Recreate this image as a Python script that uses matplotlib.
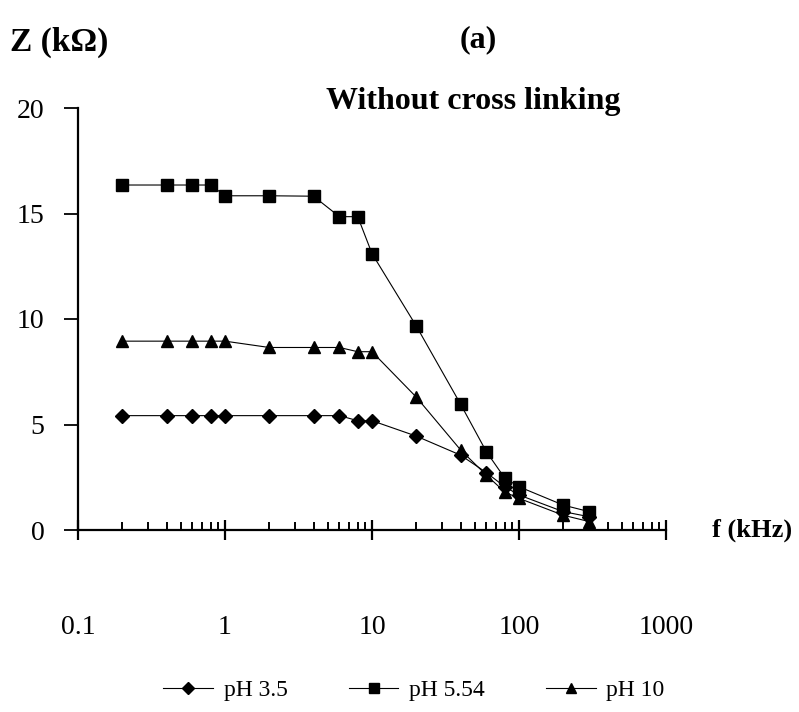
import matplotlib
matplotlib.use("Agg")
import matplotlib.pyplot as plt
from matplotlib.ticker import FixedLocator, FixedFormatter, LogLocator, NullFormatter

plt.rcParams['font.family'] = ['Liberation Serif', 'DejaVu Serif']

freq = [0.2, 0.4, 0.6, 0.8, 1, 2, 4, 6, 8, 10, 20, 40, 60, 80, 100, 200, 300]
ph35 = [5.42, 5.42, 5.42, 5.42, 5.42, 5.42, 5.42, 5.42, 5.18, 5.18, 4.45, 3.55, 2.72, 2.05, 1.66, 0.87, 0.63]
ph554 = [16.35, 16.35, 16.35, 16.35, 15.84, 15.84, 15.82, 14.85, 14.85, 13.1, 9.67, 5.97, 3.71, 2.46, 2.05, 1.18, 0.87]
ph10 = [8.95, 8.95, 8.95, 8.95, 8.95, 8.65, 8.65, 8.65, 8.45, 8.45, 6.3, 3.8, 2.6, 1.8, 1.5, 0.7, 0.4]

xticks = [0.1, 1, 10, 100, 1000]
xticklabels = ["0.1", "1", "10", "100", "1000"]
yticks = [0, 5, 10, 15, 20]
series_labels = ["pH 3.5", "pH 5.54", "pH 10"]

fig = plt.figure(figsize=(7.99, 7.12), dpi=100)
ax = fig.add_axes([78/799, 1-530/712, 588/799, 422/712])

ax.plot(freq, ph35, color='black', lw=0.8, marker='D', ms=7.5, label=series_labels[0])
ax.plot(freq, ph554, color='black', lw=0.8, marker='s', ms=8.5, label=series_labels[1])
ax.plot(freq, ph10, color='black', lw=0.8, marker='^', ms=9, label=series_labels[2])

ax.set_xscale('log')
ax.set_xlim(0.1, 1000)
ax.set_ylim(0, 20)

for s in ['top', 'right']:
    ax.spines[s].set_visible(False)
for s in ['left', 'bottom']:
    ax.spines[s].set_linewidth(1.6)

ax.xaxis.set_major_locator(FixedLocator(xticks))
ax.xaxis.set_major_formatter(FixedFormatter(xticklabels))
ax.xaxis.set_minor_locator(LogLocator(base=10, subs=[2, 3, 4, 5, 6, 7, 8, 9], numticks=20))
ax.xaxis.set_minor_formatter(NullFormatter())
ax.set_yticks(yticks)

ax.tick_params(axis='x', which='major', direction='inout', length=14, width=1.6,
               labelsize=20, pad=54)
ax.tick_params(axis='x', which='minor', direction='in', length=6, width=1.4)
ax.tick_params(axis='y', which='major', direction='out', length=10, width=1.3,
               labelsize=20, pad=14)
for line in ax.get_lines():
    line.set_clip_on(False)

fig.text(10/799, 1-42/712, "Z (k\u03a9)", fontsize=24, fontweight='bold', ha='left', va='center')
fig.text(478/799, 1-40/712, "(a)", fontsize=23, fontweight='bold', ha='center', va='center')
fig.text(473/799, 1-102/712, "Without cross linking", fontsize=23, fontweight='bold', ha='center', va='center')
fig.text(712/799, 1-530/712, "f (kHz)", fontsize=19, fontweight='bold', ha='left', va='center')

fig.legend(loc='center', bbox_to_anchor=(414/799, 1-690/712), ncol=3, frameon=False,
           fontsize=17, handlelength=2.1, columnspacing=2.6, handletextpad=0.45,
           markerscale=0.8)

fig.savefig("out.png", dpi=100)
